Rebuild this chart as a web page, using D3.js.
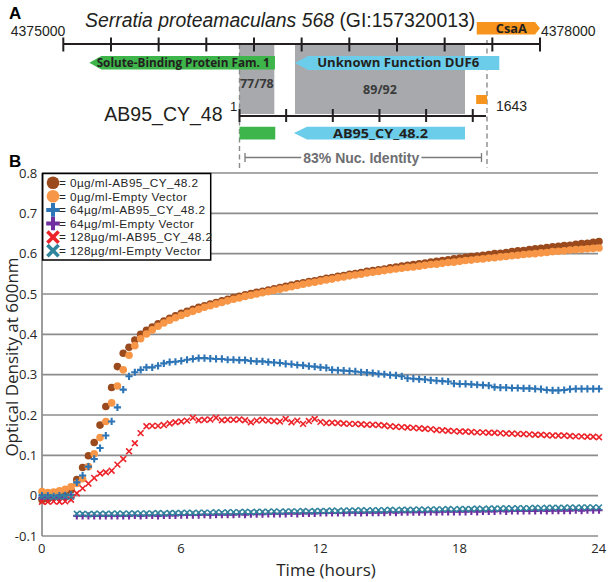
<!DOCTYPE html>
<html><head><meta charset="utf-8">
<script src="https://cdn.jsdelivr.net/npm/d3@7/dist/d3.min.js"></script>
<style>body{margin:0;background:#fff} svg{display:block}</style>
</head><body>
<svg id="c" width="614" height="582"></svg>
<script>
// ---------------- Panel A data ----------------
const genomeTicks = [4375000,4375300,4375600,4375900,4376200,4376500,4376800,4377100,4377400,4377700,4378000];
const genomeEnds = [4375000, 4378000];
const topGeneNames  = ["Solute-Binding Protein Fam. 1", "Unknown Function DUF6", "CsaA"];
const topGeneStarts = [4375164, 4376458, 4377602];
const topGeneEnds   = [4376332, 4377744, 4378000];
const topGeneStrand = [-1, -1, 1];
const homologyStarts = [4376108, 4376458];
const homologyEnds   = [4376328, 4377528];
const homologyLabels = ["77/78", "89/92"];
const insertTicks = [0, 300, 600, 900, 1200, 1500];
const insertExtent = [0, 1585];
const insertLength = 1643;
const insertFeatNames  = ["", "AB95_CY_48.2", ""];
const insertFeatStarts = [0, 350, 1522];
const insertFeatEnds   = [230, 1450, 1592];
const insertFeatStrand = [0, -1, 0];
const identityLabel = "83% Nuc. Identity";

// ---------------- Panel B data ----------------
const times = d3.range(0, 24.001, 0.25);
const seriesNames = ["0µg/ml-AB95_CY_48.2","0µg/ml-Empty Vector","64µg/ml-AB95_CY_48.2","64µg/ml-Empty Vector","128µg/ml-AB95_CY_48.2","128µg/ml-Empty Vector"];
const od0AB = [
 -0.010,-0.008,-0.004,0.000,0.006,0.014,0.040,0.070,
 0.099,0.132,0.175,0.221,0.268,0.320,0.353,0.368,
 0.386,0.400,0.410,0.418,0.426,0.433,0.440,0.446,
 0.452,0.457,0.462,0.467,0.471,0.475,0.479,0.483,
 0.487,0.491,0.494,0.498,0.501,0.504,0.507,0.510,
 0.513,0.516,0.519,0.522,0.525,0.528,0.531,0.533,
 0.536,0.539,0.541,0.544,0.546,0.549,0.551,0.553,
 0.556,0.558,0.560,0.562,0.565,0.567,0.569,0.571,
 0.573,0.575,0.577,0.579,0.581,0.583,0.585,0.587,
 0.589,0.591,0.593,0.594,0.596,0.598,0.600,0.601,
 0.603,0.605,0.607,0.608,0.610,0.612,0.613,0.615,
 0.617,0.618,0.620,0.621,0.623,0.625,0.626,0.628,
 0.630];
const od0EV = [
 0.010,0.008,0.009,0.012,0.016,0.022,0.030,0.042,
 0.072,0.104,0.144,0.184,0.230,0.272,0.312,0.348,
 0.372,0.389,0.401,0.411,0.420,0.428,0.435,0.441,
 0.447,0.452,0.457,0.462,0.467,0.471,0.475,0.479,
 0.483,0.487,0.490,0.494,0.497,0.500,0.503,0.506,
 0.509,0.512,0.515,0.518,0.521,0.524,0.527,0.529,
 0.532,0.535,0.537,0.540,0.542,0.545,0.547,0.549,
 0.552,0.554,0.556,0.558,0.560,0.562,0.564,0.566,
 0.567,0.569,0.571,0.573,0.574,0.576,0.578,0.579,
 0.581,0.583,0.584,0.586,0.587,0.589,0.590,0.592,
 0.593,0.595,0.596,0.598,0.599,0.600,0.602,0.603,
 0.605,0.606,0.607,0.609,0.610,0.611,0.612,0.613,
 0.614];
const od64AB = [
 0.000,0.000,-0.002,0.000,0.001,0.002,0.033,0.050,
 0.072,0.091,0.118,0.149,0.184,0.219,0.263,0.296,
 0.306,0.312,0.318,0.318,0.322,0.328,0.331,0.332,
 0.334,0.337,0.339,0.341,0.341,0.340,0.339,0.339,
 0.337,0.337,0.336,0.336,0.334,0.333,0.333,0.331,
 0.330,0.329,0.327,0.326,0.324,0.323,0.321,0.320,
 0.318,0.317,0.312,0.311,0.310,0.309,0.308,0.306,
 0.305,0.304,0.302,0.301,0.299,0.298,0.296,0.291,
 0.290,0.289,0.288,0.286,0.285,0.284,0.283,0.278,
 0.277,0.277,0.276,0.275,0.274,0.273,0.269,0.268,
 0.268,0.267,0.267,0.266,0.266,0.265,0.264,0.262,
 0.261,0.261,0.262,0.264,0.265,0.265,0.265,0.265,
 0.265];
const od64EV = [
 -0.006,-0.006,-0.007,-0.006,-0.006,-0.005,-0.050,-0.050,
 -0.050,-0.050,-0.050,-0.050,-0.050,-0.050,-0.050,-0.050,
 -0.049,-0.050,-0.049,-0.049,-0.050,-0.049,-0.049,-0.049,
 -0.048,-0.048,-0.048,-0.048,-0.047,-0.048,-0.047,-0.047,
 -0.047,-0.047,-0.046,-0.047,-0.046,-0.046,-0.046,-0.045,
 -0.045,-0.045,-0.045,-0.044,-0.045,-0.044,-0.044,-0.044,
 -0.043,-0.043,-0.043,-0.043,-0.043,-0.042,-0.042,-0.043,
 -0.042,-0.042,-0.042,-0.042,-0.041,-0.042,-0.041,-0.041,
 -0.041,-0.041,-0.041,-0.040,-0.041,-0.040,-0.040,-0.040,
 -0.040,-0.040,-0.039,-0.040,-0.039,-0.039,-0.039,-0.038,
 -0.039,-0.038,-0.038,-0.038,-0.038,-0.038,-0.037,-0.038,
 -0.037,-0.037,-0.037,-0.037,-0.036,-0.037,-0.036,-0.036,
 -0.036];
const od128AB = [
 -0.015,-0.015,-0.014,-0.015,-0.014,-0.010,0.006,0.018,
 0.030,0.044,0.055,0.058,0.062,0.077,0.091,0.110,
 0.130,0.155,0.172,0.173,0.173,0.175,0.179,0.182,
 0.184,0.186,0.193,0.187,0.188,0.189,0.193,0.187,
 0.188,0.188,0.189,0.187,0.182,0.186,0.188,0.186,
 0.185,0.184,0.190,0.182,0.186,0.178,0.185,0.190,
 0.183,0.180,0.181,0.180,0.179,0.178,0.178,0.177,
 0.176,0.176,0.175,0.174,0.172,0.171,0.170,0.169,
 0.168,0.167,0.166,0.165,0.163,0.162,0.161,0.160,
 0.159,0.159,0.158,0.157,0.157,0.156,0.156,0.155,
 0.154,0.154,0.153,0.153,0.152,0.151,0.151,0.150,
 0.149,0.149,0.149,0.148,0.147,0.147,0.146,0.146,
 0.145];
const od128EV = [
 -0.003,-0.003,-0.004,-0.003,-0.002,-0.003,-0.045,-0.045,
 -0.046,-0.045,-0.045,-0.045,-0.045,-0.044,-0.045,-0.044,
 -0.044,-0.044,-0.044,-0.044,-0.043,-0.044,-0.043,-0.043,
 -0.043,-0.042,-0.043,-0.042,-0.042,-0.042,-0.041,-0.042,
 -0.041,-0.041,-0.041,-0.040,-0.041,-0.040,-0.040,-0.040,
 -0.039,-0.040,-0.039,-0.039,-0.039,-0.038,-0.039,-0.038,
 -0.038,-0.038,-0.037,-0.038,-0.037,-0.037,-0.037,-0.036,
 -0.037,-0.036,-0.036,-0.036,-0.035,-0.036,-0.035,-0.035,
 -0.035,-0.034,-0.035,-0.034,-0.034,-0.034,-0.033,-0.034,
 -0.033,-0.033,-0.033,-0.032,-0.033,-0.032,-0.032,-0.032,
 -0.031,-0.032,-0.031,-0.031,-0.031,-0.030,-0.031,-0.030,
 -0.030,-0.030,-0.030,-0.029,-0.030,-0.029,-0.029,-0.029,
 -0.029];
const yTicks = [-0.1,0,0.1,0.2,0.3,0.4,0.5,0.6,0.7,0.8];
const yTickLabels = ["-0.1","0","0.1","0.2","0.3","0.4","0.5","0.6","0.7","0.8"];
const xTicks = [0,6,12,18,24];

// ---------------- styles ----------------
const seriesColors = ["#9A4A1D","#F79646","#2E75B6","#7030A0","#EC2329","#31859C"];
const seriesShapes = ["circle","circle","plus","plus","cross","cross"];
const allSeries = [od0AB, od0EV, od64AB, od64EV, od128AB, od128EV];
const GREEN = "#3DB54A", CYAN = "#6CCDEB", ORANGE = "#F7941D", GRAY = "#A7A9AC";
const sans = "'Liberation Sans', Arial, sans-serif";
const body = "'Open Sans', sans-serif";

const svg = d3.select("#c");

// ================= PANEL A =================
const gA = svg.append("g");
const gx = d3.scaleLinear().domain(genomeEnds).range([63.3, 540]);
const ix = d3.scaleLinear().domain([0, insertLength]).range([239.5, 495]);

function arrowPath(x0, x1, y0, y1, dir, head) {
  const ym = (y0 + y1) / 2;
  if (dir < 0) return `M${x0},${ym}L${x0+head},${y0}L${x1},${y0}L${x1},${y1}L${x0+head},${y1}Z`;
  if (dir > 0) return `M${x0},${y0}L${x1-head},${y0}L${x1},${ym}L${x1-head},${y1}L${x0},${y1}Z`;
  return `M${x0},${y0}L${x1},${y0}L${x1},${y1}L${x0},${y1}Z`;
}

// homology gray regions
homologyStarts.forEach((s, i) => {
  gA.append("rect").attr("x", gx(s)).attr("y", 45)
    .attr("width", gx(homologyEnds[i]) - gx(s)).attr("height", 69).attr("fill", GRAY);
});

// dashed guide lines
const dashL = ix(insertExtent[0]);
const dashR = ix(insertExtent[1]) + 1;
[[dashL, 44], [dashR, 40]].forEach(([xx, y0]) => {
  gA.append("line").attr("x1", xx).attr("x2", xx).attr("y1", y0).attr("y2", 168)
    .attr("stroke", "#8a8a8a").attr("stroke-width", 1.4).attr("stroke-dasharray", "5,3.5");
});

// genome axis
gA.append("line").attr("x1", gx(genomeEnds[0])).attr("x2", gx(genomeEnds[1]))
  .attr("y1", 44).attr("y2", 44).attr("stroke", "#231f20").attr("stroke-width", 2);
gA.selectAll(".gt").data(genomeTicks).enter().append("line")
  .attr("x1", d => gx(d)).attr("x2", d => gx(d)).attr("y1", 37.5).attr("y2", 51.5)
  .attr("stroke", "#231f20").attr("stroke-width", 2);
gA.append("text").attr("x", gx(genomeEnds[0]) + 2).attr("y", 36).attr("text-anchor", "end")
  .attr("font-family", sans).attr("font-size", 14).attr("fill", "#231f20").text(String(genomeEnds[0]));
gA.append("text").attr("x", gx(genomeEnds[1]) + 1).attr("y", 36)
  .attr("font-family", sans).attr("font-size", 14).attr("fill", "#231f20").text(String(genomeEnds[1]));

// top genes
const topColors = [GREEN, CYAN, ORANGE];
const topRows = [[56, 69.5], [56, 70], [22, 34.5]];
const topHeads = [12, 13, 5];
const topTextLen = [173, 162, 31];
topGeneNames.forEach((n, i) => {
  const x0 = gx(topGeneStarts[i]), x1 = gx(topGeneEnds[i]);
  const [y0, y1] = topRows[i];
  gA.append("path").attr("d", arrowPath(x0, x1, y0, y1, topGeneStrand[i], topHeads[i])).attr("fill", topColors[i]);
  gA.append("text").attr("x", (x0 + x1) / 2 + (i === 2 ? 3 : 1)).attr("y", (y0 + y1) / 2 + 4.4)
    .attr("text-anchor", "middle").attr("font-family", body).attr("font-weight", 700)
    .attr("font-size", 12.5).attr("fill", "#231f20")
    .attr("textLength", topTextLen[i]).attr("lengthAdjust", "spacingAndGlyphs").text(n);
});

// homology labels
const homLabelY = [88, 94];
homologyLabels.forEach((l, i) => {
  const cx = (gx(homologyStarts[i]) + gx(homologyEnds[i])) / 2;
  gA.append("text").attr("x", cx).attr("y", homLabelY[i]).attr("text-anchor", "middle")
    .attr("font-family", body).attr("font-weight", 700).attr("font-size", 12.5)
    .attr("fill", "#3a3a3a").text(l);
});

// insert axis
gA.append("line").attr("x1", ix(insertExtent[0])).attr("x2", ix(insertExtent[1]))
  .attr("y1", 116).attr("y2", 116).attr("stroke", "#231f20").attr("stroke-width", 2);
gA.selectAll(".it").data(insertTicks).enter().append("line")
  .attr("x1", d => ix(d)).attr("x2", d => ix(d)).attr("y1", 109).attr("y2", 122)
  .attr("stroke", "#231f20").attr("stroke-width", 2);
gA.append("text").attr("x", 222.5).attr("y", 120.5).attr("text-anchor", "end")
  .attr("font-family", sans).attr("font-size", 19.5).attr("fill", "#231f20").text("AB95_CY_48");
gA.append("text").attr("x", 230).attr("y", 111).attr("font-family", sans)
  .attr("font-size", 13).attr("fill", "#231f20").text("1");
gA.append("text").attr("x", 496).attr("y", 110.5).attr("font-family", sans)
  .attr("font-size", 14).attr("fill", "#231f20").text(String(insertLength));

// insert features
const insColors = [GREEN, CYAN, ORANGE];
const insRows = [[126.7, 139.5], [126.7, 139.5], [95, 104]];
insertFeatNames.forEach((n, i) => {
  const x0 = ix(insertFeatStarts[i]), x1 = ix(insertFeatEnds[i]);
  const [y0, y1] = insRows[i];
  gA.append("path").attr("d", arrowPath(x0, x1, y0, y1, insertFeatStrand[i], 13)).attr("fill", insColors[i]);
  if (n) gA.append("text").attr("x", (x0 + x1) / 2 + 1).attr("y", (y0 + y1) / 2 + 4.4)
    .attr("text-anchor", "middle").attr("font-family", body).attr("font-weight", 700)
    .attr("font-size", 12.5).attr("fill", "#231f20")
    .attr("textLength", 95).attr("lengthAdjust", "spacingAndGlyphs").text(n);
});

// identity bracket
const brL = dashL + 5.5, brR = dashR - 5.5, brY = 157.5;
const idText = gA.append("text").attr("x", (brL + brR) / 2 - 2).attr("y", brY + 5)
  .attr("text-anchor", "middle").attr("font-family", sans).attr("font-weight", 700)
  .attr("font-size", 14).attr("fill", "#6d6e71").text(identityLabel);
const bb = idText.node().getBBox();
[[brL, bb.x - 2], [bb.x + bb.width + 2, brR]].forEach(([a, b]) => {
  gA.append("line").attr("x1", a).attr("x2", b).attr("y1", brY).attr("y2", brY)
    .attr("stroke", "#7a7a7a").attr("stroke-width", 1.3);
});
[brL, brR].forEach(xx => gA.append("line").attr("x1", xx).attr("x2", xx)
  .attr("y1", brY - 4.5).attr("y2", brY + 4.5).attr("stroke", "#7a7a7a").attr("stroke-width", 1.3));

// title
const title = gA.append("text").attr("x", 85).attr("y", 26.5).attr("font-family", sans)
  .attr("font-size", 19.4).attr("fill", "#231f20");
title.append("tspan").attr("font-style", "italic").text("Serratia proteamaculans 568");
title.append("tspan").text(" (GI:157320013)");

// panel letters
svg.append("text").attr("x", 9).attr("y", 18.5).attr("font-family", sans).attr("font-weight", 700)
  .attr("font-size", 17).attr("fill", "#000").text("A");
svg.append("text").attr("x", 9).attr("y", 166.5).attr("font-family", sans).attr("font-weight", 700)
  .attr("font-size", 17).attr("fill", "#000").text("B");

// ================= PANEL B =================
const gB = svg.append("g");
const x = d3.scaleLinear().domain([0, 24]).range([42, 599]);
const y = d3.scaleLinear().domain([-0.1, 0.8]).range([536, 173]);

gB.selectAll(".grid").data(yTicks).enter().append("line")
  .attr("x1", x(0)).attr("x2", x(24) - 1).attr("y1", d => y(d)).attr("y2", d => y(d))
  .attr("stroke", "#8c8c8c").attr("stroke-width", 1.7);
gB.append("line").attr("x1", x(0)).attr("x2", x(0)).attr("y1", y(0.8)).attr("y2", y(-0.1))
  .attr("stroke", "#8c8c8c").attr("stroke-width", 1.7);

gB.selectAll(".yl").data(yTicks).enter().append("text")
  .attr("x", 37.3).attr("y", d => y(d) + 4.8).attr("text-anchor", "end")
  .attr("font-family", body).attr("font-size", 13).attr("fill", "#262626")
  .text((d, i) => yTickLabels[i]);
gB.selectAll(".xl").data(xTicks).enter().append("text")
  .attr("x", d => x(d) - 0.3).attr("y", 553).attr("text-anchor", "middle")
  .attr("font-family", body).attr("font-size", 13).attr("fill", "#262626")
  .text(d => d);

gB.append("text").attr("x", 326).attr("y", 576).attr("text-anchor", "middle")
  .attr("font-family", body).attr("font-size", 17).attr("fill", "#262626").text("Time (hours)");
gB.append("text").attr("transform", "translate(18,357) rotate(-90)").attr("text-anchor", "middle")
  .attr("font-family", body).attr("font-size", 17).attr("fill", "#262626").text("Optical Density at 600nm");

function marker(sel, shape, color, s) {
  if (shape === "circle") {
    sel.append("circle").attr("r", s.r).attr("fill", color);
  } else if (shape === "plus") {
    sel.append("path").attr("d", `M${-s.p},0H${s.p}M0,${-s.p}V${s.p}`)
      .attr("stroke", color).attr("stroke-width", s.pw).attr("fill", "none");
  } else {
    sel.append("path").attr("d", `M${-s.c},${-s.c}L${s.c},${s.c}M${-s.c},${s.c}L${s.c},${-s.c}`)
      .attr("stroke", color).attr("stroke-width", s.cw).attr("fill", "none");
  }
}
const plotSize = {r: 3.8, p: 3.6, pw: 2.1, c: 2.9, cw: 1.6};
allSeries.forEach((vals, si) => {
  const g = gB.append("g");
  vals.forEach((v, i) => {
    const m = g.append("g").attr("transform", `translate(${x(times[i])},${y(v)})`);
    marker(m, seriesShapes[si], seriesColors[si], plotSize);
  });
});

// legend
const lg = gB.append("g");
lg.append("rect").attr("x", 42.7).attr("y", 173.5).attr("width", 168).attr("height", 86.5)
  .attr("fill", "#fff").attr("stroke", "#000").attr("stroke-width", 1.5);
const legSize = {r: 6.3, p: 6.8, pw: 4, c: 5.6, cw: 3.6};
seriesNames.forEach((n, i) => {
  const cy = 182.7 + i * 13.6;
  const m = lg.append("g").attr("transform", `translate(53,${cy})`);
  marker(m, seriesShapes[i], seriesColors[i], legSize);
  lg.append("text").attr("x", 59).attr("y", cy + 4.3).attr("font-family", sans)
    .attr("font-size", 11.8).attr("letter-spacing", 0.4).attr("fill", "#262626").text("= " + n);
});
</script>
</body></html>
